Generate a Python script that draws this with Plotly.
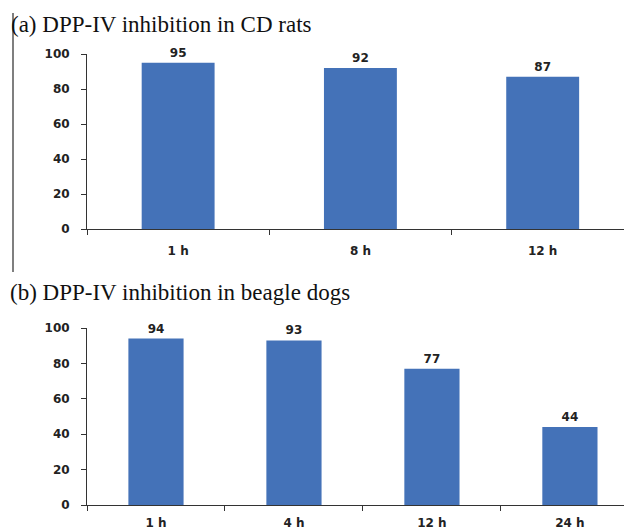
import plotly.graph_objects as go

# Data
rat_times = ["1 h", "8 h", "12 h"]
rat_inhibition = [95, 92, 87]
dog_times = ["1 h", "4 h", "12 h", "24 h"]
dog_inhibition = [94, 93, 77, 44]
y_ticks = [0, 20, 40, 60, 80, 100]

# page body has an 8px margin; figure drawn at (8, 8)
OFF = 8
W, H = 632 - OFF, 532 - OFF
BAR = "#4472B8"
AX = "#333333"
tickfont = dict(family="DejaVu Sans", size=12, color="#222222", weight="bold")


def px(x):
    return (x - OFF) / W


def py(y):
    return 1 - (y - OFF) / H


fig = go.Figure()
fig.add_trace(go.Bar(x=rat_times, y=rat_inhibition, marker_color=BAR, width=0.4,
                     text=rat_inhibition, textposition="outside", cliponaxis=False,
                     textfont=tickfont, xaxis="x", yaxis="y"))
fig.add_trace(go.Bar(x=dog_times, y=dog_inhibition, marker_color=BAR, width=0.4,
                     text=dog_inhibition, textposition="outside", cliponaxis=False,
                     textfont=tickfont, xaxis="x2", yaxis="y2"))

xcommon = dict(type="category", showline=True, linecolor=AX, linewidth=1,
               ticks="outside", tickson="boundaries", ticklen=5, tickcolor=AX,
               tickfont=tickfont, showgrid=False, zeroline=False, fixedrange=True,
               automargin=False)
ycommon = dict(range=[0, 100], tickvals=y_ticks, showline=True, linecolor=AX, linewidth=1,
               ticks="outside", ticklen=5, tickcolor=AX, tickfont=tickfont,
               showgrid=False, zeroline=False, ticklabelstandoff=9, automargin=False)

fig.update_layout(
    template="none",
    width=W, height=H,
    margin=dict(l=0, r=0, t=0, b=0, autoexpand=False),
    paper_bgcolor="white", plot_bgcolor="white",
    showlegend=False,
    xaxis=dict(domain=[px(87), 1], range=[-0.5, 2.49], anchor="y",
               ticklabelstandoff=11, **xcommon),
    yaxis=dict(domain=[py(229), py(54)], anchor="x", **ycommon),
    xaxis2=dict(domain=[px(87), 1], range=[-0.5, 3.45], anchor="y2",
                ticklabelstandoff=7, **xcommon),
    yaxis2=dict(domain=[py(505), py(328)], anchor="x2", **ycommon),
    annotations=[
        dict(text="(a) DPP-IV inhibition in CD rats", xref="paper", yref="paper",
             x=px(9), y=py(24), xanchor="left", yanchor="middle", showarrow=False,
             font=dict(family="Liberation Serif", size=23, color="#111111")),
        dict(text="(b) DPP-IV inhibition in beagle dogs", xref="paper", yref="paper",
             x=px(8), y=py(292), xanchor="left", yanchor="middle", showarrow=False,
             font=dict(family="Liberation Serif", size=23, color="#111111")),
    ],
    shapes=[
        dict(type="line", xref="paper", yref="paper", x0=px(13), x1=px(13),
             y0=py(13), y1=py(272), line=dict(color="#555555", width=1.5)),
    ],
)

fig.write_html("out.html")
